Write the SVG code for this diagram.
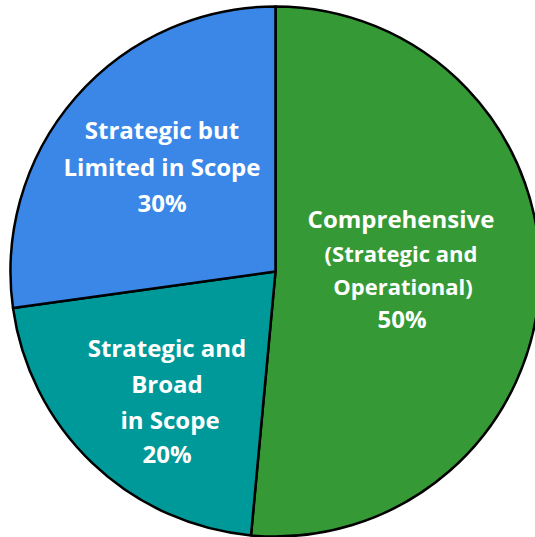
<svg xmlns="http://www.w3.org/2000/svg" width="535" height="537" viewBox="0 0 535 537">
<style>
.sl{stroke:#000;stroke-width:2.5;stroke-linejoin:round}
.t{font-family:"Open Sans",Lato,sans-serif;font-weight:bold;fill:#fff;text-anchor:middle}
.a{font-size:24px}
.b{font-size:22px}
</style>
<rect width="535" height="537" fill="#fff"/>
<g id="slice-comprehensive">
<path class="sl" fill="#359a35" d="M275.5,271.5 L275.5,6.5 A265,265 0 1 1 251,535.4 Z"/>
<text class="t a" x="401" y="228">Comprehensive</text>
<text class="t b" x="401" y="262">(Strategic and</text>
<text class="t b" x="403" y="295">Operational)</text>
<text class="t a" x="402" y="328">50%</text>
</g>
<g id="slice-broad">
<path class="sl" fill="#009999" d="M275.5,271.5 L251,535.4 A265,265 0 0 1 13,308 Z"/>
<text class="t a" x="167" y="357">Strategic and</text>
<text class="t a" x="167" y="393">Broad</text>
<text class="t a" x="170" y="429">in Scope</text>
<text class="t a" x="167" y="463">20%</text>
</g>
<g id="slice-limited">
<path class="sl" fill="#3a87e8" d="M275.5,271.5 L13,308 A265,265 0 0 1 275.5,6.5 Z"/>
<text class="t a" x="162" y="139">Strategic but</text>
<text class="t a" x="162" y="176">Limited in Scope</text>
<text class="t a" x="162" y="212">30%</text>
</g>
</svg>
